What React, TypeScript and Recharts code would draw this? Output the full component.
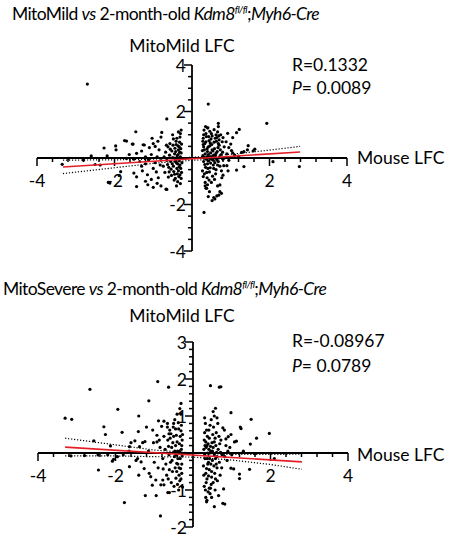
import React from 'react';
import { ScatterChart, Scatter, XAxis, YAxis, ReferenceLine } from 'recharts';

type Pt = [number, number];

// ---------- Tick data ----------
const xTickValues = [-4, -3.6, -3.2, -2.8, -2.4, -2, -1.6, -1.2, -0.8, -0.4, 0.4, 0.8, 1.2, 1.6, 2, 2.4, 2.8, 3.2, 3.6, 4];
const xTickLabels = [-4, -2, 2, 4];
const mildYTickValues = [-4, -3.5, -3, -2.5, -2, -1.5, -1, -0.5, 0.5, 1, 1.5, 2, 2.5, 3, 3.5, 4];
const mildYTickLabels = [-4, -2, 2, 4];
const severeYTickValues = [-2, -1.8, -1.6, -1.4, -1.2, -1, -0.8, -0.6, -0.4, -0.2, 0.2, 0.4, 0.6, 0.8, 1, 1.2, 1.4, 1.6, 1.8, 2, 2.2, 2.4, 2.6, 2.8, 3];
const severeYTickLabels = [-2, -1, 1, 2, 3];

// ---------- Panel 1: MitoMild ----------
const mildLeftCluster: Pt[] = [
  [-0.30, 0.05], [-0.33, -0.12], [-0.28, 0.22], [-0.35, 0.35], [-0.31, -0.30], [-0.38, 0.10], [-0.42, -0.05], [-0.29, -0.45],
  [-0.36, 0.52], [-0.40, -0.22], [-0.45, 0.18], [-0.32, 0.68], [-0.27, -0.62], [-0.48, -0.35], [-0.50, 0.02], [-0.34, -0.80],
  [-0.39, 0.85], [-0.30, 1.05], [-0.44, 0.42], [-0.55, -0.15], [-0.52, 0.30], [-0.47, -0.58], [-0.58, 0.12], [-0.60, -0.40],
  [-0.62, 0.48], [-0.37, -1.02], [-0.43, -0.88], [-0.53, -0.75], [-0.28, 1.20], [-0.31, 0.90], [-0.65, -0.10], [-0.68, 0.25],
  [-0.70, -0.62], [-0.57, 0.62], [-0.41, 0.72], [-0.35, -0.55], [-0.46, -0.95], [-0.26, -0.20], [-0.29, 0.40], [-0.33, -0.38],
  [-0.49, 0.55], [-0.54, -0.48], [-0.61, -0.82], [-0.72, 0.05], [-0.40, -1.20], [-0.30, -1.10], [-0.27, 0.60], [-0.38, -0.68],
  [-0.44, 0.00], [-0.51, -0.25], [-0.56, 0.38], [-0.63, -0.28], [-0.36, 0.15], [-0.42, 0.28], [-0.48, 0.82], [-0.29, -0.02],
  [-0.33, 0.48], [-0.39, -0.45], [-0.45, -0.70], [-0.59, -0.60], [-0.66, 0.55], [-0.74, -0.35], [-0.31, -0.72], [-0.28, -0.88],
  [-0.35, 1.12], [-0.50, 1.00], [-0.43, -0.15], [-0.37, -0.25], [-0.32, 0.25], [-0.41, 0.58],
];
const mildLeftSpread: Pt[] = [
  [-1.03, 0.85], [-1.00, 0.62], [-0.95, 0.50], [-0.88, 0.72], [-1.23, 0.56], [-1.10, 0.45], [-0.85, 0.35], [-1.05, 0.15],
  [-0.90, 0.05], [-1.12, -0.08], [-0.95, -0.20], [-1.20, -0.25], [-0.82, -0.30], [-1.00, -0.45], [-1.28, -0.55], [-0.92, -0.60],
  [-1.15, -0.72], [-0.87, -0.85], [-1.05, -0.92], [-0.90, -1.09], [-0.80, -1.20], [-1.20, -1.00], [-1.00, -1.26], [-0.67, -1.34],
  [-1.43, -1.23], [-1.43, -0.81], [-1.50, -0.65], [-1.84, -0.59], [-1.88, -0.75], [-1.30, -0.35], [-1.50, -0.05], [-1.69, -0.02],
  [-1.62, 0.15], [-1.43, 0.20], [-1.30, 0.30], [-1.54, 0.60], [-1.69, 0.73], [-1.74, 0.75], [-1.52, 0.60], [-1.45, 1.13],
  [-1.97, 0.52], [-1.96, 0.35], [-2.27, 0.43], [-2.19, 0.09], [-2.60, 0.09], [-3.18, -0.01], [-2.80, -0.09], [-3.35, -0.27],
  [-2.50, -0.28], [-2.37, -0.30], [-2.16, -1.05], [-2.12, -1.08], [-1.14, -1.15], [-0.65, -1.35], [-0.65, 1.68], [-2.70, 3.18],
  [-1.26, 0.57], [-1.20, 0.05], [-1.35, -0.15], [-0.80, 0.90], [-0.78, 1.10],
];
const mildRightCluster: Pt[] = [
  [0.28, 0.10], [0.30, -0.15], [0.32, 0.35], [0.35, -0.40], [0.33, 0.62], [0.29, 0.85], [0.38, 0.05], [0.40, -0.25],
  [0.42, 0.48], [0.36, 1.05], [0.31, 1.20], [0.45, -0.60], [0.48, 0.22], [0.50, -0.05], [0.44, 0.75], [0.39, -0.85],
  [0.34, -1.05], [0.52, 0.95], [0.55, -0.30], [0.58, 0.40], [0.46, 1.15], [0.41, 1.30], [0.60, 0.10], [0.62, -0.50],
  [0.57, 0.68], [0.53, -0.78], [0.65, 0.28], [0.68, -0.15], [0.64, 0.88], [0.70, 0.55], [0.72, -0.35], [0.75, 0.15],
  [0.78, 0.70], [0.80, -0.05], [0.74, 1.00], [0.66, 1.12], [0.27, -0.55], [0.30, 0.48], [0.34, 0.18], [0.37, 0.92],
  [0.43, -0.12], [0.47, -0.42], [0.51, 0.58], [0.54, 0.30], [0.59, -0.20], [0.63, 0.72], [0.67, 0.45], [0.71, 0.05],
  [0.76, -0.55], [0.29, -0.80], [0.33, -0.28], [0.36, 0.70], [0.40, 0.28], [0.44, -0.95], [0.49, 0.82], [0.56, 0.12],
  [0.61, -0.68], [0.69, 0.95], [0.73, 0.35], [0.27, 0.32], [0.31, 0.00], [0.35, 1.35], [0.38, -0.62], [0.42, 0.15],
  [0.46, 0.52], [0.50, 1.05], [0.55, -0.10], [0.58, -0.92], [0.62, 0.20], [0.66, -0.30], [0.70, 0.78], [0.79, 0.25],
  [0.83, 0.48], [0.28, 0.72], [0.32, -0.68], [0.39, 0.40], [0.45, 0.05], [0.48, -0.22], [0.52, 0.35], [0.57, 1.22],
  [0.60, 0.85], [0.64, -0.08], [0.30, 1.00], [0.34, -1.20], [0.41, -0.45], [0.47, 0.65], [0.53, 0.08], [0.29, 0.58],
  [0.37, -0.05], [0.43, 0.92], [0.56, -0.45], [0.68, 0.62], [0.40, -1.15], [0.36, -1.30], [0.50, -1.05], [0.62, 1.00],
];
const mildRightSpread: Pt[] = [
  [0.42, 2.32], [1.93, 1.49], [0.31, -2.34], [0.68, 1.49], [0.68, 1.35], [0.40, 1.30], [0.92, 1.06], [1.22, 1.23],
  [1.15, 1.09], [1.05, 0.88], [0.80, 0.88], [1.45, 0.53], [1.43, 0.35], [1.58, 0.31], [1.62, 0.38], [1.34, 0.27],
  [1.28, 0.24], [1.15, -0.52], [1.34, -0.37], [0.90, -0.33], [0.82, -0.33], [2.09, -0.16], [2.77, -0.37], [0.80, -0.74],
  [0.77, -0.85], [0.45, -1.45], [0.56, -1.70], [0.59, -1.76], [0.72, -1.45], [0.76, -1.52], [0.69, -1.60], [0.64, -1.63],
  [0.52, -1.83], [0.42, -1.66], [0.72, -1.16], [0.66, -1.20], [0.38, -1.30], [0.95, 0.45], [1.02, 0.32], [0.90, 0.18],
  [1.10, 0.12], [0.95, -0.10], [1.00, 0.60], [0.88, 0.70], [1.05, 0.22], [0.93, -0.55], [1.20, 0.08],
];
const mildFit: Pt[] = [[-3.33, -0.39], [2.79, 0.26]];
const mildUpperBand: Pt[] = [[-3.33, -0.09], [-2, -0.08], [-1, -0.05], [0, 0.03], [1, 0.16], [2, 0.34], [2.79, 0.5]];
const mildLowerBand: Pt[] = [[-3.33, -0.67], [-2, -0.42], [-1, -0.23], [0, -0.1], [1, -0.02], [2, 0.01], [2.79, 0.02]];

// ---------- Panel 2: MitoSevere ----------
const severeLeftCluster: Pt[] = [
  [-0.30, 0.10], [-0.33, -0.15], [-0.28, 0.35], [-0.36, -0.40], [-0.31, 0.60], [-0.40, 0.05], [-0.42, -0.28], [-0.29, -0.55],
  [-0.38, 0.82], [-0.45, 0.20], [-0.48, -0.10], [-0.34, -0.75], [-0.27, -0.92], [-0.50, 0.45], [-0.53, -0.50], [-0.44, -0.68],
  [-0.31, 1.05], [-0.41, 1.05], [-0.55, 0.15], [-0.58, -0.25], [-0.60, 0.62], [-0.37, -1.00], [-0.47, 0.90], [-0.62, -0.05],
  [-0.65, 0.35], [-0.68, -0.60], [-0.35, 0.25], [-0.39, -0.15], [-0.43, 0.48], [-0.29, -0.30], [-0.32, 0.00], [-0.46, -0.40],
  [-0.51, 0.70], [-0.56, -0.80], [-0.63, 0.18], [-0.70, -0.30], [-0.33, 0.45], [-0.36, -0.60], [-0.41, 0.30], [-0.28, -0.08],
  [-0.30, 0.75], [-0.49, -0.90], [-0.52, 0.28], [-0.57, 0.52], [-0.61, -0.45], [-0.66, 0.80], [-0.72, 0.10], [-0.34, 1.20],
  [-0.40, -0.85], [-0.44, -0.05], [-0.27, 0.50], [-0.31, -0.70], [-0.37, 0.65], [-0.42, -0.50], [-0.47, 0.05], [-0.54, -0.20],
  [-0.59, 0.40], [-0.64, -0.70], [-0.75, 0.45], [-0.78, -0.15], [-0.32, -0.42], [-0.35, 0.05], [-0.39, -0.30], [-0.29, 0.20],
  [-0.45, 0.65],
];
const severeLeftSpread: Pt[] = [
  [-0.91, 1.93], [-0.63, 1.78], [-2.66, 1.72], [-3.30, 0.94], [-3.13, 0.91], [-1.94, 1.18], [-1.14, 1.41], [-0.31, 1.34],
  [-1.40, 1.00], [-0.50, 0.80], [-0.89, 0.87], [-0.75, 0.86], [-2.30, 0.71], [-2.26, 0.50], [-1.83, 0.56], [-2.56, 0.33],
  [-2.13, 0.19], [-1.41, 0.58], [-1.50, 0.33], [-1.60, 0.28], [-1.64, 0.17], [-1.38, 0.17], [-1.30, 0.28], [-1.24, 0.31],
  [-1.15, 0.05], [-1.04, 0.62], [-0.93, 0.48], [-0.87, 0.35], [-0.81, 0.72], [-0.66, 0.70], [-0.62, 0.52], [-1.02, 0.28],
  [-0.93, 0.30], [-0.85, 0.15], [-2.44, -0.46], [-2.05, -0.17], [-2.08, -0.22], [-1.77, -1.34], [-0.84, -1.70], [-1.23, -1.15],
  [-0.95, -1.15], [-0.65, -1.07], [-0.61, -1.07], [-1.64, -0.37], [-1.47, -0.20], [-1.43, -0.15], [-1.34, -0.24], [-1.26, -0.42],
  [-1.13, -0.55], [-1.09, -0.64], [-0.96, -0.73], [-0.83, -0.86], [-1.05, -0.87], [-0.78, -0.73], [-0.77, -0.43], [-0.75, -0.86],
  [-0.90, -0.40], [-1.00, -0.25], [-1.80, -0.05], [-1.95, -0.10], [-2.20, -0.05], [-2.45, -0.05], [-2.80, -0.07], [-3.15, -0.08],
  [-1.65, 0.05], [-1.40, -0.60], [-1.20, 0.70],
];
const severeRightCluster: Pt[] = [
  [0.28, 0.10], [0.31, -0.15], [0.33, 0.30], [0.35, -0.42], [0.30, 0.55], [0.38, 0.00], [0.40, -0.25], [0.42, 0.40],
  [0.36, -0.70], [0.29, -0.90], [0.45, 0.18], [0.48, -0.50], [0.44, 0.75], [0.50, 0.05], [0.39, -1.05], [0.33, -1.20],
  [0.52, -0.80], [0.55, 0.30], [0.58, -0.15], [0.46, -0.30], [0.41, 0.62], [0.60, 0.55], [0.62, -0.40], [0.57, -1.00],
  [0.65, 0.10], [0.68, -0.25], [0.64, 0.80], [0.70, -0.60], [0.72, 0.35], [0.75, -0.05], [0.27, -0.35], [0.32, 0.80],
  [0.34, 0.15], [0.37, 0.45], [0.43, -0.15], [0.47, -0.85], [0.51, 0.50], [0.54, -0.35], [0.59, 0.20], [0.63, -0.75],
  [0.67, 0.45], [0.71, 0.02], [0.29, 0.35], [0.33, -0.55], [0.36, 0.20], [0.40, -0.62], [0.44, -1.10], [0.49, 0.28],
  [0.56, -0.55], [0.61, 0.02], [0.66, -1.15], [0.30, -0.05], [0.35, 0.62], [0.38, -0.30], [0.42, -0.45], [0.46, 0.05],
  [0.50, -0.20], [0.53, 0.70], [0.57, 0.40], [0.62, -0.10], [0.31, 0.20], [0.34, -0.80], [0.39, 0.25], [0.43, 0.00],
  [0.48, -0.65], [0.52, 0.15], [0.58, -0.70], [0.28, -0.60], [0.32, -1.00], [0.37, -0.15], [0.41, 0.10], [0.45, -0.95],
  [0.55, -0.05], [0.60, -0.30], [0.69, 0.25], [0.74, -0.40], [0.30, 0.95], [0.36, -1.28], [0.47, 0.90],
];
const severeRightSpread: Pt[] = [
  [0.45, 1.82], [0.68, 1.78], [0.72, 1.79], [0.58, 1.21], [0.98, 1.09], [1.50, 0.91], [1.24, 0.66], [1.22, 0.70],
  [1.97, 0.53], [1.64, 0.40], [1.48, 0.24], [0.98, 0.50], [0.91, 0.44], [1.07, 0.30], [1.12, 0.32], [0.81, 0.62],
  [0.77, 0.68], [0.55, 1.00], [0.62, 0.95], [0.52, 1.12], [0.98, -0.41], [1.05, -0.43], [1.20, -0.57], [1.20, -0.69],
  [1.46, -0.44], [2.10, -0.15], [0.79, -0.97], [0.77, -1.36], [0.82, -1.38], [0.55, -1.45], [0.35, -1.32], [0.48, -1.20],
  [0.42, -0.95], [0.85, 0.20], [0.90, 0.05], [0.95, 0.15], [1.00, -0.05], [0.88, -0.20], [0.82, -0.10], [1.30, 0.05],
  [1.60, -0.02], [0.85, 0.38],
];
const severeFit: Pt[] = [[-3.3, 0.16], [2.81, -0.24]];
const severeUpperBand: Pt[] = [[-3.3, 0.4], [-2, 0.22], [-1, 0.08], [0, 0.0], [1, -0.04], [2, -0.04], [2.81, -0.03]];
const severeLowerBand: Pt[] = [[-3.3, -0.08], [-2, -0.08], [-1, -0.1], [0, -0.11], [1, -0.19], [2, -0.31], [2.81, -0.44]];

// ---------- helpers ----------
const FONT = 'Lato, "Open Sans", sans-serif';
const FS = 17.5;
const toXY = (pts: Pt[]) => pts.map(([x, y]) => ({ x, y }));
const Empty = () => <g />;
const Dot = (p: any) => <circle cx={p.cx} cy={p.cy} r={1.6} fill="#000" />;

const makeXTick = (labels: number[]) => (p: any) => {
  const major = labels.includes(p.payload.x);
  return (
    <g>
      <line x1={p.cx} x2={p.cx} y1={p.cy} y2={p.cy + (major ? 8 : 4)} stroke="#000" strokeWidth={1.5} />
      {major && (
        <text x={p.cx} y={p.cy + 29} textAnchor="middle" fontFamily={FONT} fontSize={FS} fill="#000">
          {p.payload.x}
        </text>
      )}
    </g>
  );
};
const makeYTick = (labels: number[], majorFn: (v: number) => boolean) => (p: any) => {
  const v = p.payload.y;
  const major = majorFn(v);
  return (
    <g>
      <line x1={p.cx} x2={p.cx - (major ? 8 : 4)} y1={p.cy} y2={p.cy} stroke="#000" strokeWidth={1.5} />
      {labels.includes(v) && (
        <text x={p.cx - 6} y={p.cy + 6.5} textAnchor="end" fontFamily={FONT} fontSize={FS} fill="#000">
          {v}
        </text>
      )}
    </g>
  );
};

interface PanelProps {
  top: number;
  height: number;
  margin: { top: number; right: number; bottom: number; left: number };
  yDomain: [number, number];
  yTicks: number[];
  yLabels: number[];
  yMajor: (v: number) => boolean;
  groups: Pt[][];
  fit: Pt[];
  upper: Pt[];
  lower: Pt[];
}

const Panel = ({ top, height, margin, yDomain, yTicks, yLabels, yMajor, groups, fit, upper, lower }: PanelProps) => (
  <div style={{ position: 'absolute', left: 0, top, width: 450, height }}>
    <ScatterChart width={450} height={height} margin={margin} style={{ overflow: 'visible' }}>
      <XAxis type="number" dataKey="x" domain={[-4, 4]} hide />
      <YAxis type="number" dataKey="y" domain={yDomain} hide />
      <ReferenceLine y={0} stroke="#000" strokeWidth={1.8} />
      <ReferenceLine x={0} stroke="#000" strokeWidth={1.8} />
      <Scatter data={xTickValues.map((x) => ({ x, y: 0 }))} shape={makeXTick(xTickLabels)} isAnimationActive={false} />
      <Scatter data={yTicks.map((y) => ({ x: 0, y }))} shape={makeYTick(yLabels, yMajor)} isAnimationActive={false} />
      {groups.map((g, i) => (
        <Scatter key={i} data={toXY(g)} shape={Dot} isAnimationActive={false} />
      ))}
      <Scatter data={toXY(upper)} line={{ stroke: '#000', strokeWidth: 1.2, strokeDasharray: '1.2 1.8' }} shape={Empty} isAnimationActive={false} />
      <Scatter data={toXY(lower)} line={{ stroke: '#000', strokeWidth: 1.2, strokeDasharray: '1.2 1.8' }} shape={Empty} isAnimationActive={false} />
      <Scatter data={toXY(fit)} line={{ stroke: '#e41e26', strokeWidth: 1.6 }} shape={Empty} isAnimationActive={false} />
    </ScatterChart>
  </div>
);

const T = (props: any) => <text fontFamily={FONT} fontSize={FS} fill="#000" {...props} />;

export default function App() {
  return (
    <div style={{ position: 'absolute', left: 0, top: 0, width: 450, height: 537, background: '#fff', overflow: 'hidden' }}>
      <Panel
        top={0}
        height={260}
        margin={{ top: 65, right: 103, bottom: 9, left: 37 }}
        yDomain={[-4, 4]}
        yTicks={mildYTickValues}
        yLabels={mildYTickLabels}
        yMajor={(v) => v % 2 === 0}
        groups={[mildLeftCluster, mildLeftSpread, mildRightCluster, mildRightSpread]}
        fit={mildFit}
        upper={mildUpperBand}
        lower={mildLowerBand}
      />
      <Panel
        top={270}
        height={267}
        margin={{ top: 72, right: 102, bottom: 10, left: 38 }}
        yDomain={[-2, 3]}
        yTicks={severeYTickValues}
        yLabels={severeYTickLabels}
        yMajor={(v) => Number.isInteger(v)}
        groups={[severeLeftCluster, severeLeftSpread, severeRightCluster, severeRightSpread]}
        fit={severeFit}
        upper={severeUpperBand}
        lower={severeLowerBand}
      />
      <svg width={450} height={537} style={{ position: 'absolute', left: 0, top: 0, pointerEvents: 'none' }}>
        <T x={12} y={19.5} letterSpacing={-0.6}>
          MitoMild <tspan fontStyle="italic">vs</tspan> 2-month-old <tspan fontStyle="italic">Kdm8</tspan>
          <tspan fontStyle="italic" fontSize={10} dy={-7}>fl/fl</tspan>
          <tspan dy={7}>;</tspan>
          <tspan fontStyle="italic">Myh6-Cre</tspan>
        </T>
        <T x={182} y={52} textAnchor="middle">MitoMild LFC</T>
        <T x={292} y={71}>R=0.1332</T>
        <T x={292} y={93.5}>
          <tspan fontStyle="italic">P</tspan>= 0.0089
        </T>
        <T x={357} y={164}>Mouse LFC</T>

        <T x={3} y={295} letterSpacing={-0.6}>
          MitoSevere <tspan fontStyle="italic">vs</tspan> 2-month-old <tspan fontStyle="italic">Kdm8</tspan>
          <tspan fontStyle="italic" fontSize={10} dy={-7}>fl/fl</tspan>
          <tspan dy={7}>;</tspan>
          <tspan fontStyle="italic">Myh6-Cre</tspan>
        </T>
        <T x={182} y={322} textAnchor="middle">MitoMild LFC</T>
        <T x={292} y={347}>R=-0.08967</T>
        <T x={292} y={372}>
          <tspan fontStyle="italic">P</tspan>= 0.0789
        </T>
        <T x={357} y={461}>Mouse LFC</T>
      </svg>
    </div>
  );
}
